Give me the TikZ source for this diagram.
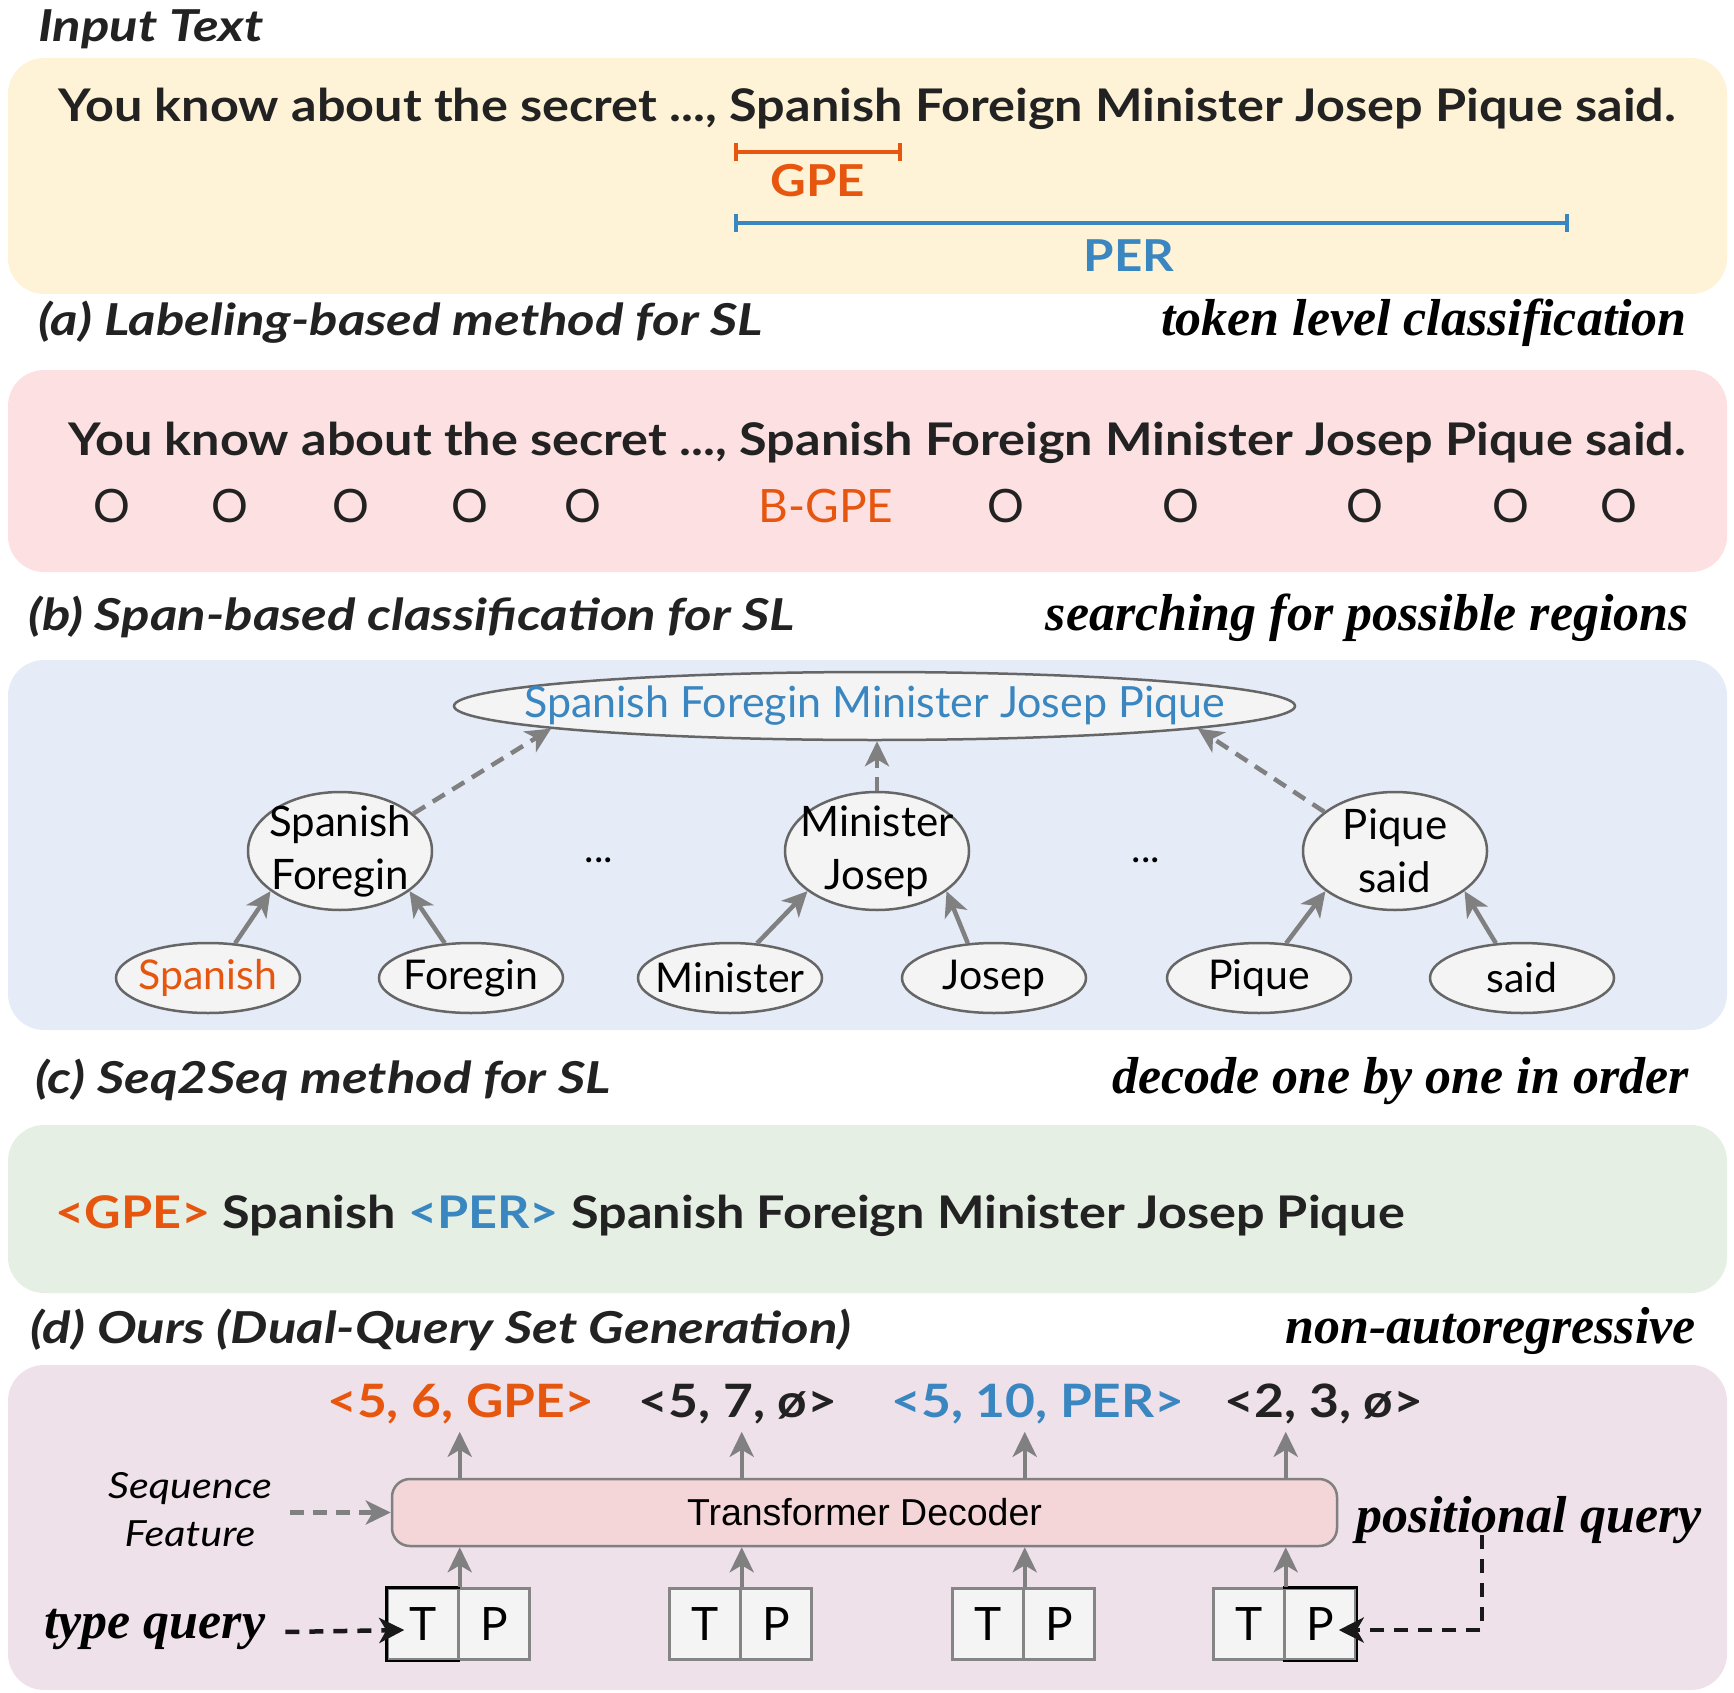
\documentclass[tikz,border=0pt]{standalone}
\usepackage{fontspec}
\setmainfont{Lato}
\newfontfamily\latoD{Lato}[FakeStretch=1.12]
\newfontfamily\latoH{Lato}[FakeStretch=1.2]
\newfontfamily\latoW{Lato}[FakeStretch=1.15]
\newfontfamily\serifbi{Liberation Serif}
\newfontfamily\arialf{Liberation Sans}
\usetikzlibrary{arrows.meta,shapes.geometric,calc}
\newcommand{\fsz}[2]{\fontsize{#1}{#2}\selectfont}
\definecolor{cOrange}{HTML}{E6560E}
\definecolor{cBlue}{HTML}{3A86C0}
\definecolor{cDark}{HTML}{222222}
\definecolor{bgYellow}{HTML}{FEF3D7}
\definecolor{bgPink}{HTML}{FDE0E1}
\definecolor{bgBlue}{HTML}{E5ECF7}
\definecolor{bgGreen}{HTML}{E6EFE3}
\definecolor{bgPurple}{HTML}{EFE1EA}
\definecolor{cGray}{HTML}{808080}
\definecolor{cNode}{HTML}{F4F4F4}
\definecolor{cNodeLine}{HTML}{666666}
\definecolor{cDec}{HTML}{F4D5D8}
\begin{document}
\begin{tikzpicture}[x=1pt,y=-1pt,
  panel/.style={rounded corners=36pt},
  hdr/.style={anchor=base west, inner sep=0, text=cDark, font=\latoH\bfseries\itshape\fsz{44}{50}},
  rhdr/.style={anchor=base east, inner sep=0, text=black, font=\serifbi\bfseries\itshape\fsz{52}{56}},
  sent/.style={anchor=base west, inner sep=0, text=cDark, font=\latoD\bfseries\fsz{45}{50}},
  olab/.style={anchor=base, inner sep=0, text=cDark, font=\fsz{46}{50}},
  ell/.style={ellipse, draw=cNodeLine, fill=cNode, line width=2.5pt, inner sep=0},
  lbl/.style={inner sep=0, text=black, font=\fsz{41}{53}, align=center},
  garrow/.style={draw=cGray, line width=4.5pt, -{Stealth[length=25pt,width=24pt,inset=7pt]}},
  gdash/.style={garrow, dash pattern=on 14pt off 9pt},
  kdash/.style={draw=black!90, line width=4.5pt, dash pattern=on 14pt off 10pt, -{Stealth[length=25pt,width=25pt,inset=7pt]}},
  bar/.style={line width=4.5pt, {Bar[width=18pt,line width=4pt]}-{Bar[width=18pt,line width=4pt]}},
  tup/.style={anchor=base, inner sep=0, font=\latoD\bfseries\fsz{46}{50}},
  cell/.style={rectangle, draw=cNodeLine!80, fill=cNode, line width=2.5pt, minimum width=71pt, minimum height=71pt, inner sep=0, font=\fsz{46}{50}, text=black},
]
\useasboundingbox (0,0) rectangle (1734,1693);

% ---------- panels ----------
\fill[bgYellow, panel] (8,58) rectangle (1727,294);
\fill[bgPink, panel] (8,370) rectangle (1727,572);
\fill[bgBlue, panel] (8,660) rectangle (1727,1030);
\fill[bgGreen, panel] (8,1125) rectangle (1727,1293);
\fill[bgPurple, panel] (8,1365) rectangle (1727,1690);

% ---------- input text ----------
\node[hdr] (hInput) at (38,42) {Input Text};
\node[sent] (s1) at (58,122) {You know about the secret ..., Spanish Foreign Minister Josep Pique said.};
\draw[bar, draw=cOrange] (734,152) -- (902,152);
\node[anchor=base, inner sep=0, font=\latoD\bfseries\fsz{44}{50}, text=cOrange] (gpe) at (818,197) {GPE};
\draw[bar, draw=cBlue] (734,223) -- (1569,223);
\node[anchor=base, inner sep=0, font=\latoD\bfseries\fsz{44}{50}, text=cBlue] (per) at (1129,272) {PER};

% ---------- (a) ----------
\node[hdr] (ha) at (38,336) {(a) Labeling-based method for SL};
\node[rhdr] (ra) at (1687,336) {token level classification};
\node[sent] (s2) at (68,455) {You know about the secret ..., Spanish Foreign Minister Josep Pique said.};
\node[olab] (o1) at (112,522) {O};
\node[olab] (o2) at (230,522) {O};
\node[olab] (o3) at (351,522) {O};
\node[olab] (o4) at (470,522) {O};
\node[olab] (o5) at (583,522) {O};
\node[olab, text=cOrange] (bgpe) at (826,522) {B-GPE};
\node[olab] (o6) at (1006,522) {O};
\node[olab] (o7) at (1181,522) {O};
\node[olab] (o8) at (1365,522) {O};
\node[olab] (o9) at (1511,522) {O};
\node[olab] (o10) at (1619,522) {O};

% ---------- (b) ----------
\node[hdr] (hb) at (28,630) {(b) Span-based classification for SL};
\node[rhdr] (rb) at (1689,630) {searching for possible regions};
\node[ell, minimum width=841pt, minimum height=68pt,
      label={[lbl, text=cBlue, font=\fsz{43}{50}]center:Spanish Foregin Minister Josep Pique}] (top) at (874.5,706) {};
\node[ell, minimum width=184pt, minimum height=118pt, label={[lbl, font=\fsz{42}{53}]center:{Spanish\\Foregin}}] (sf) at (340,851) {};
\node[ell, minimum width=184pt, minimum height=118pt, label={[lbl, font=\fsz{42}{53}]center:{Minister\\Josep}}] (mj) at (877,851) {};
\node[ell, minimum width=184pt, minimum height=118pt, label={[lbl, font=\fsz{42}{53}]center:{Pique\\said}}] (ps) at (1395,851) {};
\node[anchor=base, inner sep=0, font=\fsz{40}{48}] (d1) at (599,862) {...};
\node[anchor=base, inner sep=0, font=\fsz{40}{48}] (d2) at (1146,862) {...};
\node[ell, minimum width=184pt, minimum height=70pt, label={[lbl, text=cOrange]center:Spanish}] (b1) at (208,978) {};
\node[ell, minimum width=184pt, minimum height=70pt, label={[lbl]center:Foregin}] (b2) at (471,978) {};
\node[ell, minimum width=184pt, minimum height=70pt, label={[lbl]center:Minister}] (b3) at (730,978) {};
\node[ell, minimum width=184pt, minimum height=70pt, label={[lbl]center:Josep}] (b4) at (994,978) {};
\node[ell, minimum width=184pt, minimum height=70pt, label={[lbl]center:Pique}] (b5) at (1259,978) {};
\node[ell, minimum width=184pt, minimum height=70pt, label={[lbl]center:said}] (b6) at (1522,978) {};
\draw[garrow] (b1.52) -- (sf.210);
\draw[garrow] (b2.127) -- (sf.330);
\draw[garrow] (b3.52) -- (mj.210);
\draw[garrow] (b4.127) -- (mj.330);
\draw[garrow] (b5.52) -- (ps.210);
\draw[garrow] (b6.127) -- (ps.330);
\draw[gdash] (sf.27) -- (top.184);
\draw[gdash] (mj.north) -- (mj.north |- top.south);
\draw[gdash] (ps.151) -- (top.356);

% ---------- (c) ----------
\node[hdr] (hc) at (35,1093) {(c) Seq2Seq method for SL};
\node[rhdr] (rc) at (1689,1093) {decode one by one in order};
\node[sent] (s3) at (55,1228) {\textcolor{cOrange}{<GPE>} Spanish \textcolor{cBlue}{<PER>} Spanish Foreign Minister Josep Pique};

% ---------- (d) ----------
\node[hdr] (hd) at (30,1343) {(d) Ours (Dual-Query Set Generation)};
\node[rhdr] (rd) at (1696,1343) {non-autoregressive};
\node[tup, text=cOrange] (tup1) at (461,1417) {<5, 6, GPE>};
\node[tup, text=cDark] (tup2) at (738,1417) {<5, 7, ø>};
\node[tup, text=cBlue] (tup3) at (1038,1417) {<5, 10, PER>};
\node[tup, text=cDark] (tup4) at (1324,1417) {<2, 3, ø>};
\node[rectangle, rounded corners=18pt, draw=cGray, fill=cDec, line width=2.5pt, minimum width=945pt, minimum height=67pt, inner sep=0, font=\arialf\fsz{37.5}{40}] (dec) at (864.5,1512.5) {Transformer Decoder};
\node[anchor=center, inner sep=0, align=center, font=\latoW\itshape\fsz{36}{48}] (seqf) at (190,1510) {Sequence\\Feature};
\draw[gdash] ([xshift=18pt]seqf.east |- dec.west) -- (dec.west);

\node[cell] (t1) at (423,1624) {T};
\node[cell] (p1) at (494,1624) {P};
\node[cell] (t2) at (705,1624) {T};
\node[cell] (p2) at (776,1624) {P};
\node[cell] (t3) at (988,1624) {T};
\node[cell] (p3) at (1059,1624) {P};
\node[cell] (t4) at (1249,1624) {T};
\node[cell] (p4) at (1320,1624) {P};
\draw[black, line width=2.5pt] (t1.north east) -- (t1.north west) -- (t1.south west) -- (t1.south east);
\draw[black, line width=2.5pt] (p4.north west) -- (p4.north east) -- (p4.south east) -- (p4.south west);

\foreach \c/\t in {t1/tup1, t2/tup2, t3/tup3, t4/tup4}{
  \draw[garrow] (\c.north east) -- (\c.north east |- dec.south);
  \draw[garrow, shorten >=8pt] (\c.north east |- dec.north) -- (\c.north east |- \t.south);
}

\node[anchor=base west, inner sep=0, font=\serifbi\bfseries\itshape\fsz{52}{56}] (tq) at (44,1638) {type query};
\draw[kdash] ([xshift=20pt,yshift=-3pt]tq.east) -- ([xshift=18pt,yshift=-6pt]t1.west);
\node[anchor=base west, inner sep=0, font=\serifbi\bfseries\itshape\fsz{52}{56}] (pq) at (1356,1532) {positional query};
\draw[kdash] ([xshift=-47pt,yshift=8pt]pq.south) |- ([xshift=-18pt,yshift=-6pt]p4.east);
\end{tikzpicture}
\end{document}
